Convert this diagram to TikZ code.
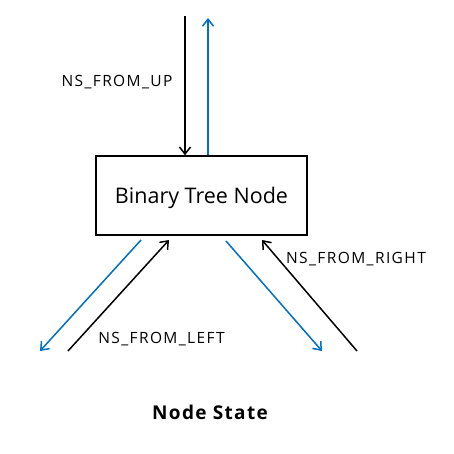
\documentclass[tikz,border=0pt]{standalone}
\usepackage{fontspec}
\setmainfont{Open Sans}
\usetikzlibrary{arrows.meta,positioning,calc}

\tikzset{
  flow/.style={line width=1.5pt,-{Straight Barb[length=7pt,width=11pt]}},
  toblack/.style={flow,black},
  toblue/.style={flow,color=outblue},
  lbl/.style={font=\fontsize{15.5}{18}\selectfont\addfontfeature{LetterSpace=9}}
}
\definecolor{outblue}{HTML}{0070C0}

\begin{document}
\begin{tikzpicture}[x=1pt,y=-1pt]
\useasboundingbox (0,0) rectangle (454,454);

% --------
\node [draw,line width=1.5pt,minimum width=211pt,minimum height=79pt,text depth=0pt,
  font=\fontsize{21.5}{25}\selectfont] (tree) at (201.5,195.5) {Binary Tree Node};

% up
\coordinate (upin) at (185,16);
\coordinate (upout) at (208,18);
\draw [toblack] (upin) -- (upin |- tree.north);
\draw [toblue] (upout |- tree.north) -- (upout);
\node [lbl] (uplbl) at (117,82) {NS\_FROM\_UP};

% left
\coordinate (lout) at (141,240);
\coordinate (loutend) at (40,351);
\coordinate (lin) at (68,351);
\coordinate (linend) at (169,240);
\draw [toblue] (lout) -- (loutend);
\draw [toblack] (lin) -- (linend);
\node [lbl] (leftlbl) at (161.5,339.5) {NS\_FROM\_LEFT};

% right
\coordinate (rout) at (226,241);
\coordinate (routend) at (322,351);
\coordinate (rin) at (357,351);
\coordinate (rinend) at (262,240);
\draw [toblue] (rout) -- (routend);
\draw [toblack] (rin) -- (rinend);
\node [lbl] (rightlbl) at (356,259) {NS\_FROM\_RIGHT};

% --------
\node [font=\fontsize{19}{23}\selectfont\bfseries\addfontfeature{LetterSpace=7}] (title) at (210,412) {Node State};

\end{tikzpicture}
\end{document}
